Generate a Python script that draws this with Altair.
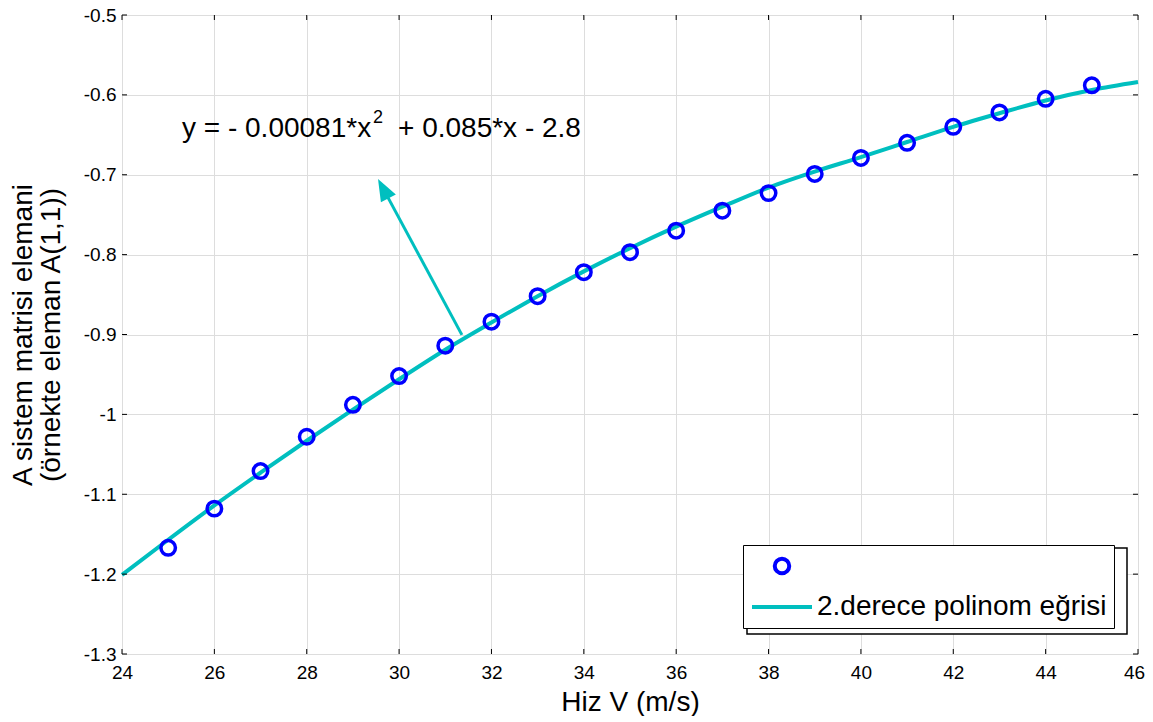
import altair as alt
import pandas as pd

# ---- data ----
speed = [25, 26, 27, 28, 29, 30, 31, 32, 33, 34, 35, 36, 37, 38, 39, 40, 41, 42, 43, 44, 45]
a11 = [-1.167, -1.118, -1.071, -1.028, -0.988, -0.952, -0.914, -0.884, -0.852, -0.822,
       -0.797, -0.770, -0.745, -0.723, -0.699, -0.679, -0.660, -0.640, -0.622, -0.605, -0.588]
fit_speed = [24, 25, 26, 27, 28, 29, 30, 31, 32, 33, 34, 35, 36, 37, 38, 39, 40, 41, 42, 43, 44, 45, 46]
fit_a11 = [-1.201, -1.157, -1.114, -1.073, -1.033, -0.994, -0.956, -0.919, -0.885, -0.852,
           -0.821, -0.792, -0.765, -0.740, -0.716, -0.696, -0.678, -0.659, -0.640, -0.623,
           -0.607, -0.594, -0.584]
x_ticks = [24, 26, 28, 30, 32, 34, 36, 38, 40, 42, 44, 46]
y_ticks = [-1.3, -1.2, -1.1, -1.0, -0.9, -0.8, -0.7, -0.6, -0.5]

eq_parts = ["y = - 0.00081*x", "+ 0.085*x - 2.8"]
eq_x = [25.30, 29.977]
eq_y = [-0.6527, -0.6527]
sup_text = ["2"]
sup_x = [29.435]
sup_y = [-0.6352]
arrow_x = [31.36, 29.656]
arrow_y = [-0.9005, -0.7174]
head_x = [29.656]
head_y = [-0.7174]
legend_labels = ["", "2.derece polinom eğrisi"]
series_keys = ["pts", "fit"]

FONT = "Liberation Sans"
BLUE = "#0000FF"
CYAN = "#00BFBF"
W, H = 1016, 639

xs = alt.Scale(domain=[24, 46], nice=False, zero=False)
ys = alt.Scale(domain=[-1.3, -0.5], nice=False, zero=False)
xaxis = alt.Axis(title="Hiz V (m/s)", values=x_ticks, grid=True, ticks=False, domain=False,
                 labelFontSize=19, labelPadding=9, labelFlush=False, labelOverlap=False,
                 labelOffset={"condition": {"test": "datum.value == 46", "value": -4}, "value": 0},
                 titleFontSize=28, titleFontWeight="normal", titlePadding=6)
yaxis = alt.Axis(title=["A sistem matrisi elemani", "(örnekte eleman A(1,1))"], values=y_ticks,
                 grid=True, ticks=False, domain=False, format="~g",
                 labelExpr="replace(datum.label, '\u2212', '-')",
                 labelFontSize=19, labelPadding=6, labelFlush=False, labelOverlap=False,
                 titleFontSize=28, titleFontWeight="normal", titleLineHeight=28, titlePadding=18)


def X():
    return alt.X("x:Q", scale=xs, axis=xaxis)


def Y():
    return alt.Y("y:Q", scale=ys, axis=yaxis)


pts_df = pd.DataFrame({"x": speed, "y": a11, "series": ["pts"] * len(speed)})
fit_df = pd.DataFrame({"x": fit_speed, "y": fit_a11})
arrow_df = pd.DataFrame({"x": arrow_x, "y": arrow_y, "o": [0, 1]})
head_df = pd.DataFrame({"x": head_x, "y": head_y})
eq_df = pd.DataFrame({"x": eq_x, "y": eq_y, "t": eq_parts})
sup_df = pd.DataFrame({"x": sup_x, "y": sup_y, "t": sup_text})
xt_df = pd.DataFrame({"x": x_ticks})
yt_df = pd.DataFrame({"y": y_ticks})
one = pd.DataFrame({"a": [0]})

label_expr = "datum.value == '%s' ? '%s' : '%s'" % (series_keys[0], legend_labels[0], legend_labels[1])
leg = alt.Legend(title=None, orient="none", legendX=621, legendY=530, labelExpr=label_expr,
                 labelFontSize=28, labelFont=FONT, labelColor="black", labelLimit=500,
                 symbolStrokeWidth=4, padding=7, rowPadding=13, labelOffset=3,
                 strokeColor="black", fillColor="white", clipHeight=28)

shadow = alt.Chart(one).mark_rect(fill="white", stroke="black", strokeWidth=1.5).encode(
    x=alt.value(625), x2=alt.value(1005), y=alt.value(533), y2=alt.value(619))

fit_line = alt.Chart(fit_df).mark_line(color=CYAN, strokeWidth=4, interpolate="monotone").encode(
    x=X(), y=Y())

points = alt.Chart(pts_df).mark_point(filled=False, strokeWidth=3.5, opacity=1).encode(
    x=X(), y=Y(),
    color=alt.Color("series:N", scale=alt.Scale(domain=series_keys, range=[BLUE, CYAN]), legend=leg),
    shape=alt.Shape("series:N", scale=alt.Scale(domain=series_keys, range=["circle", "stroke"]), legend=leg),
    size=alt.Size("series:N", scale=alt.Scale(domain=series_keys, range=[210, 3600]), legend=leg),
)

arrow = alt.Chart(arrow_df).mark_line(color=CYAN, strokeWidth=3).encode(x=X(), y=Y(), order="o:Q")
head = alt.Chart(head_df).mark_point(shape="M0,-1L0.77,1L-0.77,1Z", size=484, angle=332,
                                     filled=True, color=CYAN, opacity=1, strokeWidth=0).encode(x=X(), y=Y())

eq_text = alt.Chart(eq_df).mark_text(align="left", baseline="alphabetic", fontSize=28, font=FONT,
                                     color="black").encode(x=X(), y=Y(), text="t:N")
sup = alt.Chart(sup_df).mark_text(align="left", baseline="alphabetic", fontSize=18, font=FONT,
                                  color="black").encode(x=X(), y=Y(), text="t:N")

tick_b = alt.Chart(xt_df).mark_rule(color="black", strokeWidth=1).encode(x=X(), y=alt.value(H), y2=alt.value(H - 5))
tick_t = alt.Chart(xt_df).mark_rule(color="black", strokeWidth=1).encode(x=X(), y=alt.value(0), y2=alt.value(5))
tick_l = alt.Chart(yt_df).mark_rule(color="black", strokeWidth=1).encode(y=Y(), x=alt.value(0), x2=alt.value(5))
tick_r = alt.Chart(yt_df).mark_rule(color="black", strokeWidth=1).encode(y=Y(), x=alt.value(W), x2=alt.value(W - 5))

chart = alt.layer(shadow, fit_line, points, arrow, head, eq_text, sup,
                  tick_b, tick_t, tick_l, tick_r).properties(
    width=W, height=H,
    padding={"left": 114, "top": 7, "right": 7, "bottom": 62},
    autosize=alt.AutoSizeParams(type="none"),
).configure_view(stroke="black", strokeWidth=1.3).configure_axis(
    labelFont=FONT, titleFont=FONT, labelColor="black", titleColor="black",
    gridColor="#6e6e6e", gridDash=[2, 2], gridWidth=1, gridOpacity=1,
).configure(background="white")

chart.save("out.html", embed_options={"renderer": "svg", "actions": False})
